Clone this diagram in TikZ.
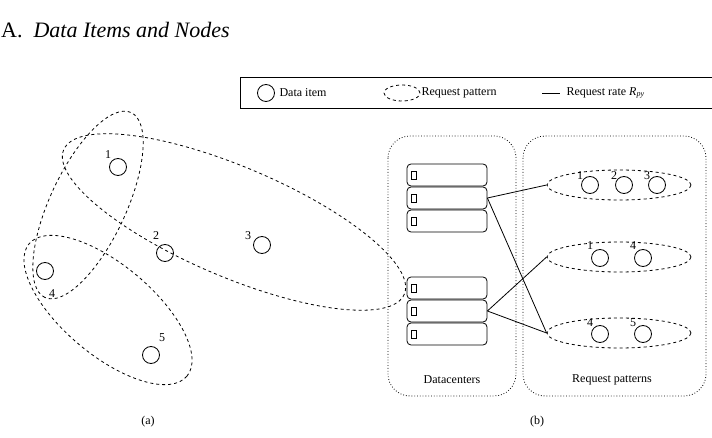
\documentclass[tikz,border=0pt]{standalone}
\usepackage{fontspec}
\setmainfont{Liberation Serif}
\usetikzlibrary{shapes.geometric,calc}
\tikzset{
  item/.style={circle,draw,thick,minimum size=17pt,inner sep=0pt},
  pattern/.style={ellipse,draw,dashed,thick,inner sep=0pt},
  rack/.style={draw,thick,rounded corners=4pt,minimum width=80pt,minimum height=22pt,inner sep=0pt},
  group/.style={draw,dotted,thick,rounded corners=22pt},
  lbl/.style={font=\fontsize{12}{12}\selectfont}
}
\begin{document}
\begin{tikzpicture}[x=1pt,y=-1pt]
\useasboundingbox (0,0) rectangle (712,438);
% Heading
\node[anchor=west,font=\fontsize{22}{22}\selectfont,inner sep=0pt] (head) at (1,30) {A.\ \ \textit{Data Items and Nodes}};

% Legend
\draw[thick] (240,77) rectangle (714,108);
\node[item] (lgitem) at (266,93) {};
\node[lbl,anchor=west] (lgitemt) at (276,93) {Data item};
\node[pattern,minimum width=36pt,minimum height=16pt] (lgpat) at (402,93) {};
\node[lbl,anchor=west] (lgpatt) at (418,93) {Request pattern};
\coordinate (lgra) at (542,93);
\coordinate (lgrb) at (560,93);
\draw[thick] (lgra) -- (lgrb);
\node[lbl,anchor=west] (lgratet) at (563,93) {Request rate \textit{R\textsubscript{py}}};

% Left: data items and patterns
\node[item] (i1) at (118,167) {};
\node[item] (i2) at (165,253) {};
\node[item] (i3) at (262,245) {};
\node[item] (i4) at (45,271) {};
\node[item] (i5) at (151,355) {};
\node[lbl] at (108,155) {1};
\node[lbl] at (156,236) {2};
\node[lbl] at (248,236) {3};
\node[lbl] at (52,294) {4};
\node[lbl] at (162,338) {5};
\draw[dashed,thick,rotate around={-23:(234,222)}] (234,222) ellipse (185 and 55);
\draw[dashed,thick,rotate around={-115:(88,205)}] (88,205) ellipse (102 and 38);
\draw[dashed,thick,rotate around={-40:(108,310)}] (108,310) ellipse (103 and 45);
\node[lbl] (capa) at (148,422) {(a)};

% Right: datacenters and request patterns
\draw[group] (388,136) rectangle (516,396);
\draw[group] (523,136) rectangle (706,396);
\node[lbl] (dc) at (452,380) {Datacenters};
\node[lbl] (rp) at (612,380) {Request patterns};
\foreach \n/\y in {a1/175,a2/198,a3/221,b1/288,b2/311,b3/334}{
  \node[rack] (\n) at (447,\y) {};
  \draw[thick] ($(\n.west)+(5,-4)$) rectangle ($(\n.west)+(10,4)$);
}
\node[pattern,minimum width=144pt,minimum height=30pt] (p1) at (619,185) {};
\node[pattern,minimum width=144pt,minimum height=30pt] (p2) at (619,257) {};
\node[pattern,minimum width=144pt,minimum height=30pt] (p3) at (619,333) {};
\foreach \x/\t in {590/1,624/2,657/3}{
  \node[item] (r\t) at (\x,185) {};
  \node[lbl] at (\x-10,176) {\t};
}
\foreach \x/\t in {600/1,643/4}{
  \node[item] (s\t) at (\x,258) {};
  \node[lbl] at (\x-10,246) {\t};
}
\foreach \x/\t in {600/4,643/5}{
  \node[item] (u\t) at (\x,334) {};
  \node[lbl] at (\x-10,323) {\t};
}
\draw[thick] (a2.east) -- (p1.west);
\draw[thick] (a2.east) -- (p3.west);
\draw[thick] (b2.east) -- (p2.west);
\draw[thick] (b2.east) -- (p3.west);
\node[lbl] (capb) at (537,422) {(b)};
\end{tikzpicture}
\end{document}
